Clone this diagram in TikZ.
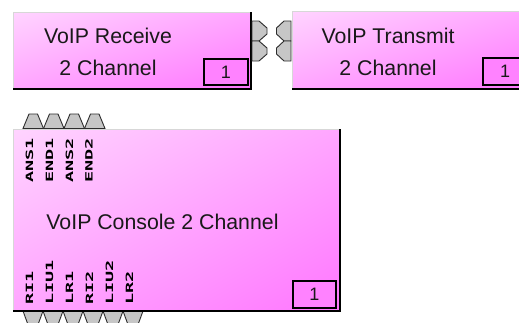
\documentclass[tikz,border=0pt]{standalone}
\usepackage{fontspec}
\usepackage{graphicx}
\usetikzlibrary{shadings}
\setmainfont{Liberation Sans}
\newfontfamily\pinfont{DejaVu Sans Mono}
\definecolor{pkA}{RGB}{255,212,255}
\definecolor{pkM}{RGB}{255,166,255}
\definecolor{pkB}{RGB}{255,118,255}
\definecolor{numfill}{RGB}{255,130,255}
\definecolor{conn}{RGB}{198,198,198}
\definecolor{connline}{RGB}{45,45,45}
\definecolor{txt}{RGB}{25,25,25}
\definecolor{hiedge}{RGB}{215,215,215}
\newcommand\pinlbl[1]{\scalebox{1.85}[1]{\fontsize{10}{10}\selectfont\pinfont\bfseries #1}}
\begin{document}
\begin{tikzpicture}[x=1pt,y=-1pt,
  block/.style={upper left=pkA, upper right=pkM, lower left=pkM, lower right=pkB, inner sep=0pt, outer sep=0pt, anchor=north west},
  hi/.style={draw=hiedge, line width=1pt},
  lo/.style={draw=black, line width=1.6pt},
  numbox/.style={draw=black, line width=1.3pt, fill=numfill, inner sep=0pt, outer sep=0pt, anchor=north west, font=\fontsize{18}{18}\selectfont, text=txt},
  ttl/.style={anchor=base, text=txt, font=\fontsize{21.3}{21.3}\selectfont, inner sep=0pt},
  pin/.style={fill=conn, draw=connline, line width=0.9pt, line join=miter},
  plbl/.style={rotate=90, anchor=base west, inner sep=0pt, text=black},
]
\useasboundingbox (0,0) rectangle (519,322);
\fill[white] (0,0) rectangle (519,322);
\clip (0,0) rectangle (519,322);

% ---- VoIP Receive block
\node[block, minimum width=238pt, minimum height=77pt] (rx) at (13,12) {};
\draw[hi] (rx.south west) -- (rx.north west) -- (rx.north east);
\draw[lo] (rx.north east) -- (rx.south east) -- (rx.south west);
\node[ttl] (rxt1) at (108,43) {VoIP Receive};
\node[ttl] (rxt2) at (108,75) {2 Channel};
\node[numbox, minimum width=44pt, minimum height=26pt] (rxn) at (204,59) {1};
% output connectors
\foreach \yy in {21,41}{
  \draw[pin] (252,\yy) -- (259,\yy) -- (267,\yy+7) -- (267,\yy+13) -- (259,\yy+20) -- (252,\yy+20) -- cycle;
}

% ---- VoIP Transmit block
\node[block, minimum width=238pt, minimum height=78pt] (tx) at (292,11) {};
\draw[hi] (tx.south west) -- (tx.north west) -- (tx.north east);
\draw[lo] (tx.north east) -- (tx.south east) -- (tx.south west);
\node[ttl] (txt1) at (388,43) {VoIP Transmit};
\node[ttl] (txt2) at (388,75) {2 Channel};
\node[numbox, minimum width=44pt, minimum height=27pt] (txn) at (483,58) {1};
% input connectors
\foreach \yy in {21,41}{
  \draw[pin] (291,\yy) -- (284,\yy) -- (276.5,\yy+7) -- (276.5,\yy+13) -- (284,\yy+20) -- (291,\yy+20) -- cycle;
}

% ---- VoIP Console block
\foreach \k in {0,...,3}{
  \draw[pin] (23+20.5*\k,128.5) -- (29+20.5*\k,114) -- (37.5+20.5*\k,114) -- (43.5+20.5*\k,128.5) -- cycle;
}
\foreach \k in {0,...,5}{
  \draw[pin] (23+20*\k,311) -- (28.5+20*\k,326) -- (37.5+20*\k,326) -- (43+20*\k,311) -- cycle;
}
\node[block, minimum width=327pt, minimum height=182pt] (cs) at (13,129) {};
\draw[hi] (cs.south west) -- (cs.north west) -- (cs.north east);
\draw[lo] (cs.north east) -- (cs.south east) -- (cs.south west);
\node[ttl] (cst) at (162.5,229) {VoIP Console 2 Channel};
\node[numbox, minimum width=43pt, minimum height=27pt] (csn) at (293,281) {1};

\node[plbl] (a1) at (33,183) {\pinlbl{ANS1}};
\node[plbl] (e1) at (53,183) {\pinlbl{END1}};
\node[plbl] (a2) at (73,183) {\pinlbl{ANS2}};
\node[plbl] (e2) at (92.5,183) {\pinlbl{END2}};

\node[plbl] (r1) at (33,305) {\pinlbl{RI1}};
\node[plbl] (l1) at (53,305) {\pinlbl{LIU1}};
\node[plbl] (lr1) at (73,305) {\pinlbl{LR1}};
\node[plbl] (r2) at (93,305) {\pinlbl{RI2}};
\node[plbl] (l2) at (113,305) {\pinlbl{LIU2}};
\node[plbl] (lr2) at (133,305) {\pinlbl{LR2}};
\end{tikzpicture}
\end{document}
